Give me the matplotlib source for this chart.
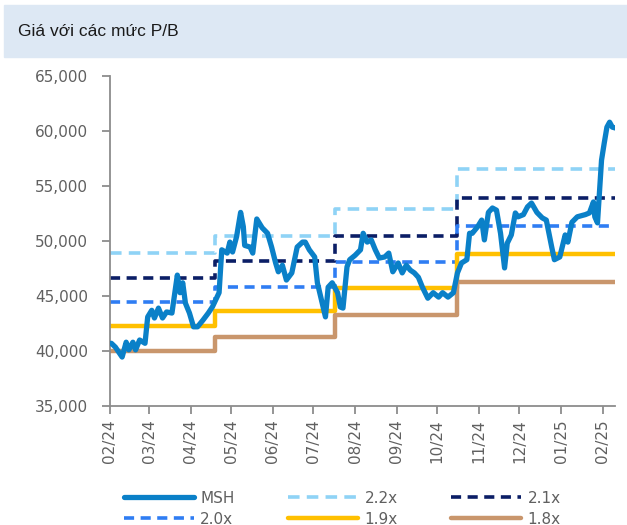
import numpy as np
import pandas as pd
import matplotlib
matplotlib.use('Agg')
import matplotlib.pyplot as plt
import matplotlib.dates as mdates
from matplotlib.patches import Rectangle

# MSH price
msh_dates = ['2024-02-02', '2024-02-05', '2024-02-10', '2024-02-13', '2024-02-15', '2024-02-18',
             '2024-02-20', '2024-02-23', '2024-02-27', '2024-02-29', '2024-03-03', '2024-03-05',
             '2024-03-08', '2024-03-11', '2024-03-14', '2024-03-18', '2024-03-22', '2024-03-24',
             '2024-03-26', '2024-03-28', '2024-03-31', '2024-04-03', '2024-04-06', '2024-04-10',
             '2024-04-14', '2024-04-17', '2024-04-22', '2024-04-24', '2024-04-28', '2024-04-30',
             '2024-05-02', '2024-05-05', '2024-05-08', '2024-05-10', '2024-05-11', '2024-05-15',
             '2024-05-17', '2024-05-20', '2024-05-24', '2024-05-28', '2024-05-31', '2024-06-03',
             '2024-06-05', '2024-06-08', '2024-06-11', '2024-06-15', '2024-06-19', '2024-06-23',
             '2024-06-25', '2024-06-28', '2024-07-02', '2024-07-04', '2024-07-10', '2024-07-12',
             '2024-07-15', '2024-07-19', '2024-07-21', '2024-07-23', '2024-07-26', '2024-07-28',
             '2024-08-01', '2024-08-05', '2024-08-07', '2024-08-10', '2024-08-13', '2024-08-16',
             '2024-08-19', '2024-08-23', '2024-08-26', '2024-08-29', '2024-09-02', '2024-09-05',
             '2024-09-08', '2024-09-11', '2024-09-14', '2024-09-17', '2024-09-20', '2024-09-24',
             '2024-09-28', '2024-10-02', '2024-10-05', '2024-10-09', '2024-10-13', '2024-10-16',
             '2024-10-19', '2024-10-23', '2024-10-25', '2024-10-27', '2024-10-31', '2024-11-03',
             '2024-11-05', '2024-11-08', '2024-11-11', '2024-11-14', '2024-11-17', '2024-11-20',
             '2024-11-22', '2024-11-25', '2024-11-28', '2024-11-30', '2024-12-04', '2024-12-07',
             '2024-12-10', '2024-12-14', '2024-12-18', '2024-12-21', '2024-12-25', '2024-12-27',
             '2024-12-31', '2025-01-04', '2025-01-06', '2025-01-09', '2025-01-13', '2025-01-19',
             '2025-01-22', '2025-01-25', '2025-01-26', '2025-01-28', '2025-01-31', '2025-02-02',
             '2025-02-04', '2025-02-06', '2025-02-08', '2025-02-11']
msh_price = [40700, 40350, 39450, 40800, 40100, 40800,
             40100, 41000, 40700, 43100, 43700, 43000,
             43900, 43000, 43550, 43450, 46900, 45300,
             46200, 44350, 43450, 42200, 42200, 42800,
             43450, 44000, 45300, 49200, 48900, 49900,
             49000, 50400, 52600, 51300, 49600, 49450,
             48900, 52000, 51200, 50700, 49450, 48000,
             47200, 47800, 46450, 47100, 49450, 49900,
             49900, 49200, 48550, 46200, 43100, 45800,
             46200, 45300, 44000, 43900, 47650, 48300,
             48700, 49200, 50700, 49900, 50100, 49200,
             48450, 48550, 48900, 47200, 48000, 47100,
             47800, 47350, 47100, 46700, 45800, 44800,
             45300, 44900, 45300, 44900, 45300, 47100,
             48000, 48300, 50700, 50700, 51300, 51900,
             50100, 52600, 53000, 52800, 50700, 47550,
             49800, 50550, 52550, 52200, 52400, 53100,
             53450, 52600, 52100, 51900, 49450, 48300,
             48550, 50550, 49900, 51700, 52200, 52400,
             52550, 53550, 52200, 51650, 57350, 58900,
             60350, 60800, 60350, 60250]

# P/B bands, one value per book-value period
band_dates = ['2024-02-01', '2024-04-19', '2024-07-17', '2024-10-16', '2025-02-11']
pb_22 = [48900, 50500, 52900, 56500]
pb_21 = [46650, 48150, 50500, 53950]
pb_20 = [44450, 45850, 48100, 51400]
pb_19 = [42250, 43600, 45700, 48850]
pb_18 = [40000, 41300, 43300, 46300]

tick_dates = pd.date_range('2024-02-01', '2025-02-01', freq='MS')
y_ticks = [35000, 40000, 45000, 50000, 55000, 60000, 65000]

fig = plt.figure(figsize=(6.27, 5.25), dpi=100)
fig.patches.append(Rectangle((4 / 627, 1 - 57 / 525), 1, 52 / 525,
                             transform=fig.transFigure, color='#dde8f4', zorder=0))
fig.text(18 / 627, 1 - 31 / 525, 'Giá với các mức P/B', fontsize=12.5,
         family=['Liberation Sans', 'DejaVu Sans'], color='#1a1a1a', va='center')

ax = fig.add_axes([110 / 627, 1 - 406 / 525, 505 / 627, 330 / 525])

bd = pd.to_datetime(band_dates)
ax.plot(pd.to_datetime(msh_dates), msh_price, color='#0a80c8', lw=3.8, label='MSH',
        solid_joinstyle='round', solid_capstyle='round', zorder=5)
ax.step(bd, pb_22 + pb_22[-1:], where='post', color='#8fd3f6', lw=2.6, dashes=(3.2, 2), label='2.2x')
ax.step(bd, pb_21 + pb_21[-1:], where='post', color='#0b1e66', lw=2.6, dashes=(2.8, 1.8), label='2.1x')
ax.step(bd, pb_20 + pb_20[-1:], where='post', color='#2f7df3', lw=2.6, dashes=(2.8, 1.8), label='2.0x')
ax.step(bd, pb_19 + pb_19[-1:], where='post', color='#ffc000', lw=3.2, label='1.9x',
        solid_capstyle='round')
ax.step(bd, pb_18 + pb_18[-1:], where='post', color='#c9966c', lw=3.2, label='1.8x',
        solid_capstyle='round')

ax.set_xlim(pd.Timestamp('2024-02-01'), pd.Timestamp('2025-02-10'))
ax.set_ylim(35000, 65000)
ax.set_yticks(y_ticks)
ax.set_yticklabels([f'{v:,}' for v in y_ticks])
ax.set_xticks(tick_dates)
ax.xaxis.set_major_formatter(mdates.DateFormatter('%m/%y'))
for lbl in ax.get_xticklabels():
    lbl.set_rotation(90)

for s in ['top', 'right']:
    ax.spines[s].set_visible(False)
for s in ['left', 'bottom']:
    ax.spines[s].set_color('#8c8c8c')
    ax.spines[s].set_linewidth(1.3)
ax.tick_params(colors='#8c8c8c', labelcolor='#606060', labelsize=11, length=6, width=1.3)
ax.tick_params(axis='y', pad=10)

# legend fills column-wise, so interleave to get rows MSH/2.2x/2.1x and 2.0x/1.9x/1.8x
handles, labels = ax.get_legend_handles_labels()
order = [0, 3, 1, 4, 2, 5]
leg = ax.legend([handles[i] for i in order], [labels[i] for i in order],
                loc='upper left', bbox_to_anchor=(0.0, -0.215),
                ncol=3, frameon=False, fontsize=11, handlelength=4.6,
                columnspacing=3.5, handletextpad=0.4, labelspacing=0.4,
                labelcolor='#606060')

fig.savefig('out.png', dpi=100)
